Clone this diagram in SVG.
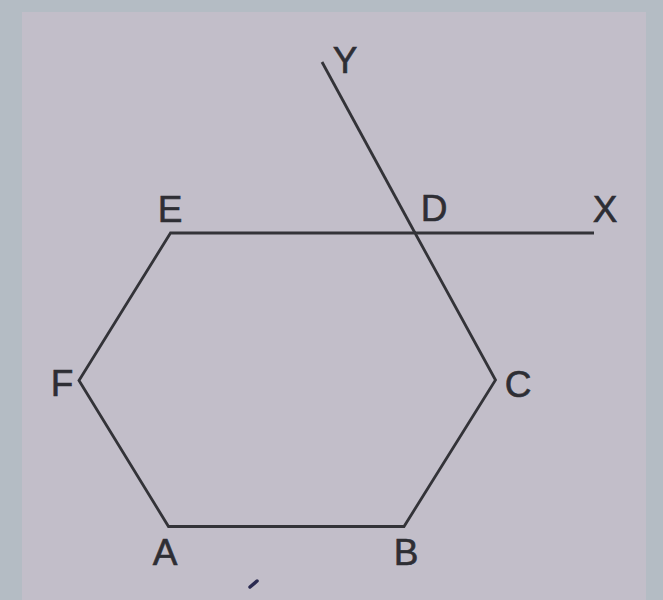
<svg xmlns="http://www.w3.org/2000/svg" width="663" height="600" viewBox="0 0 663 600">
<style>
.ln{stroke:#333338;stroke-width:2.8;fill:none;stroke-linejoin:miter;stroke-linecap:butt}
.lb{font-family:"Liberation Sans",Arial,sans-serif;font-size:37px;fill:#2e2e34;stroke:#2e2e34;stroke-width:0.6;text-anchor:middle}
</style>
<rect x="0" y="0" width="663" height="600" fill="#b4bcc4"/>
<rect x="22" y="12" width="624" height="588" fill="#c2bec9"/>
<g id="connectors">
<polygon id="hexagon" class="ln" points="170.5,233 79,380.5 168.5,526.5 404,526.5 495.5,380 415,233"/>
<line id="ray-DX" class="ln" x1="415" y1="233" x2="594" y2="233"/>
<line id="ray-DY" class="ln" x1="415" y1="233" x2="322" y2="62"/>
</g>
<g id="node-A"><text class="lb" x="165" y="565">A</text></g>
<g id="node-B"><text class="lb" x="406" y="565">B</text></g>
<g id="node-C"><text class="lb" x="518" y="397">C</text></g>
<g id="node-D"><text class="lb" x="434" y="221">D</text></g>
<g id="node-E"><text class="lb" x="170" y="222">E</text></g>
<g id="node-F"><text class="lb" x="62" y="396">F</text></g>
<g id="node-X"><text class="lb" x="605" y="222">X</text></g>
<g id="node-Y"><text class="lb" x="345" y="73">Y</text></g>
<line x1="250" y1="587" x2="257" y2="581" stroke="#2a2a50" stroke-width="3.5" stroke-linecap="round"/>
</svg>
